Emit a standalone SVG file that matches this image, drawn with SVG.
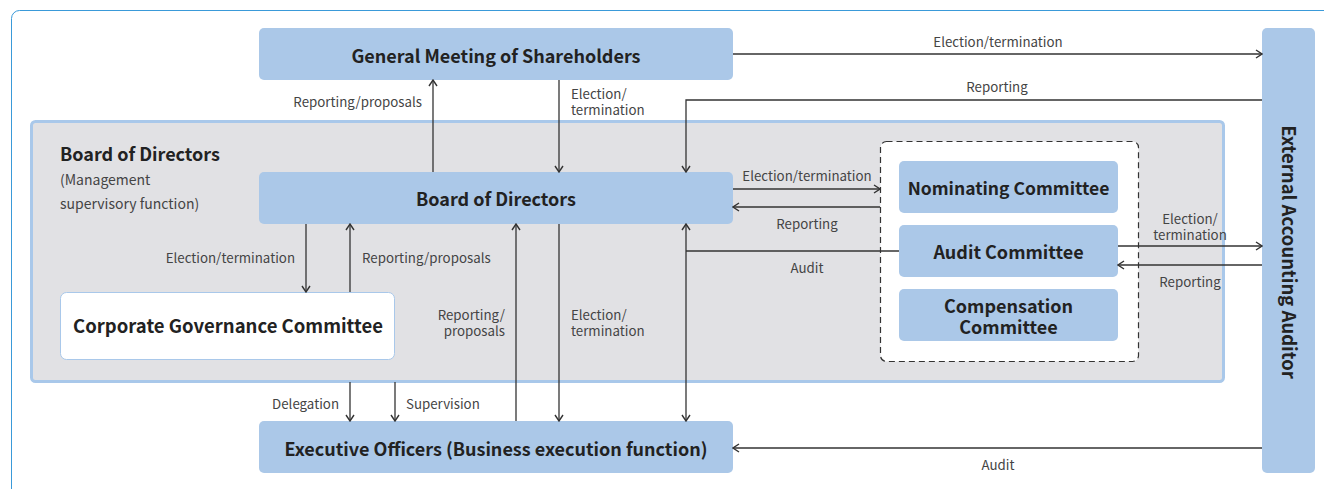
<svg xmlns="http://www.w3.org/2000/svg" width="1324" height="489" viewBox="0 0 1324 489">
<defs>
<marker id="arr" viewBox="0 0 10 10" refX="9" refY="5" markerWidth="10" markerHeight="10" markerUnits="userSpaceOnUse" orient="auto">
<path d="M3,1 L9,5 L3,9" fill="none" stroke="#333" stroke-width="1.4"/>
</marker>
<style>
.node{fill:#abc8e8}
.t{font-family:"Noto Sans CJK JP","Noto Sans",sans-serif;font-weight:700;fill:#222;font-size:18px;text-anchor:middle}
.lb{font-family:"Noto Sans CJK JP","Noto Sans",sans-serif;fill:#444;font-size:13.3px}
.c{stroke:#333;stroke-width:1.3;fill:none}
.a{marker-end:url(#arr)}
</style>
</defs>
<rect x="11.5" y="10.5" width="1330" height="490" rx="8" fill="#fff" stroke="#3a9ad9" stroke-width="1"/>
<g id="board-area">
<rect x="31.5" y="121.5" width="1192" height="260" rx="4" fill="#e1e1e4" stroke="#a9c8ea" stroke-width="3"/>
<text x="60" y="161" class="t" style="text-anchor:start;font-size:18px">Board of Directors</text>
<text x="60" y="185" class="lb" style="font-size:14px"><tspan x="60">(Management</tspan><tspan x="60" dy="24">supervisory function)</tspan></text>
</g>
<g id="committees-group">
<rect x="880.5" y="141.5" width="258" height="220" rx="6" fill="#fff" stroke="#333" stroke-width="1.2" stroke-dasharray="6,4"/>
</g>
<g id="general-meeting">
<rect class="node" x="259" y="28" width="474" height="52" rx="5"/>
<text x="496" y="63" class="t">General Meeting of Shareholders</text>
</g>
<g id="board">
<rect class="node" x="259" y="172" width="474" height="52" rx="5"/>
<text x="496" y="206" class="t">Board of Directors</text>
</g>
<g id="nominating">
<rect class="node" x="899" y="161" width="219" height="52" rx="5"/>
<text x="1008.5" y="195" class="t" style="font-size:17.5px">Nominating Committee</text>
</g>
<g id="audit">
<rect class="node" x="899" y="225" width="219" height="52" rx="5"/>
<text x="1008.5" y="259" class="t">Audit Committee</text>
</g>
<g id="compensation">
<rect class="node" x="899" y="289" width="219" height="52" rx="5"/>
<text x="1008.5" y="313" class="t"><tspan x="1008.5">Compensation</tspan><tspan x="1008.5" dy="21">Committee</tspan></text>
</g>
<g id="corporate-governance">
<rect x="60.5" y="292.5" width="334" height="67" rx="6" fill="#fff" stroke="#a9c8ea" stroke-width="1"/>
<text x="228" y="333" class="t" style="font-size:18.5px">Corporate Governance Committee</text>
</g>
<g id="executive">
<rect class="node" x="259" y="421" width="474" height="52" rx="5"/>
<text x="496" y="456" class="t">Executive Officers (Business execution function)</text>
</g>
<g id="external-auditor">
<rect class="node" x="1262" y="28" width="53" height="445" rx="5"/>
<text transform="translate(1282,252) rotate(90)" class="t" style="font-size:18.5px">External Accounting Auditor</text>
</g>
<g id="connectors">
<path class="c a" d="M733,54 H1262"/>
<path class="c a" d="M1262,100 H686 V172"/>
<path class="c a" d="M433,172 V80"/>
<path class="c a" d="M559,80 V172"/>
<path class="c a" d="M733,189 H880"/>
<path class="c a" d="M880,207 H733"/>
<path class="c" d="M899,251 H686"/>
<path class="c a" d="M686,251 V224"/>
<path class="c a" d="M686,251 V421"/>
<path class="c a" d="M306,224 V292"/>
<path class="c a" d="M350,292 V224"/>
<path class="c a" d="M516,421 V224"/>
<path class="c a" d="M559,224 V421"/>
<path class="c a" d="M350,382 V421"/>
<path class="c a" d="M395,382 V421"/>
<path class="c a" d="M1118,246 H1262"/>
<path class="c a" d="M1262,265 H1118"/>
<path class="c a" d="M1262,448 H733"/>
</g>
<g id="labels">
<text x="998" y="47" class="lb" text-anchor="middle">Election/termination</text>
<text x="997" y="92" class="lb" text-anchor="middle">Reporting</text>
<text x="422" y="107" class="lb" text-anchor="end">Reporting/proposals</text>
<text x="571" y="99" class="lb"><tspan x="571">Election/</tspan><tspan x="571" dy="16">termination</tspan></text>
<text x="807" y="181" class="lb" text-anchor="middle">Election/termination</text>
<text x="807" y="229" class="lb" text-anchor="middle">Reporting</text>
<text x="807" y="273" class="lb" text-anchor="middle">Audit</text>
<text x="295" y="263" class="lb" text-anchor="end">Election/termination</text>
<text x="362" y="263" class="lb">Reporting/proposals</text>
<text x="505" y="320" class="lb" text-anchor="end"><tspan x="505">Reporting/</tspan><tspan x="505" dy="16">proposals</tspan></text>
<text x="571" y="320" class="lb"><tspan x="571">Election/</tspan><tspan x="571" dy="16">termination</tspan></text>
<text x="339" y="409" class="lb" text-anchor="end">Delegation</text>
<text x="406" y="409" class="lb">Supervision</text>
<text x="1190" y="224" class="lb" text-anchor="middle"><tspan x="1190">Election/</tspan><tspan x="1190" dy="16">termination</tspan></text>
<text x="1190" y="287" class="lb" text-anchor="middle">Reporting</text>
<text x="998" y="470" class="lb" text-anchor="middle">Audit</text>
</g>
</svg>
